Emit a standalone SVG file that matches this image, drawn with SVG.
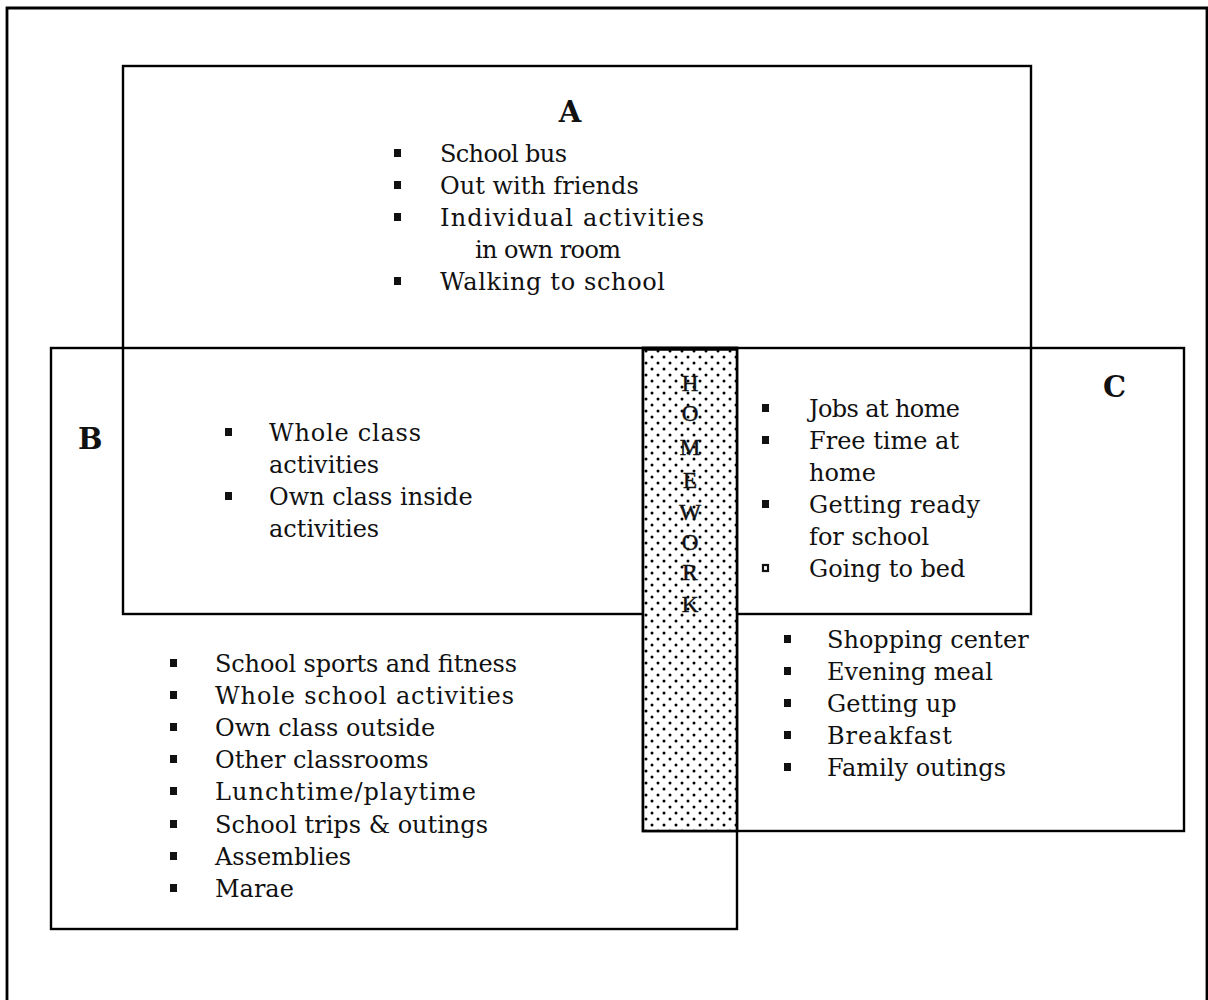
<svg xmlns="http://www.w3.org/2000/svg" width="1208" height="1000" viewBox="0 0 1208 1000">
<style>
.box{fill:none;stroke:#000;stroke-width:2.4}
.t{font-family:"DejaVu Serif","Liberation Serif",serif;font-size:24px;fill:#111}
.h{font-family:"DejaVu Serif","Liberation Serif",serif;font-size:29px;font-weight:bold;fill:#111}
.hw{font-family:"Liberation Serif",serif;font-size:23px;fill:#111;text-anchor:middle;stroke:#111;stroke-width:0.5}
.b{fill:#111}
</style>
<defs>
<pattern id="dots" x="643" y="348" width="12" height="12" patternUnits="userSpaceOnUse">
<rect width="12" height="12" fill="#fff"/>
<circle cx="3" cy="3" r="1.5" fill="#000"/>
<circle cx="9" cy="9" r="1.5" fill="#000"/>
</pattern>
</defs>
<rect width="1208" height="1000" fill="#fff"/>
<g id="frame"><path d="M7,1002 V8 H1207 V1002" fill="none" stroke="#000" stroke-width="2.8"/></g>
<g id="connectors"></g>
<g id="boxA"><rect class="box" x="123" y="66" width="908" height="548"/></g>
<g id="boxB"><rect class="box" x="51" y="348" width="686" height="581"/></g>
<g id="boxC"><rect class="box" x="643" y="348" width="541" height="483"/></g>
<g id="homework">
<rect x="643" y="348" width="94" height="483" fill="url(#dots)" stroke="#000" stroke-width="2.6"/>
<line x1="643" y1="349" x2="737" y2="349" stroke="#000" stroke-width="3.5"/>
<text class="hw" x="690" y="391">H</text>
<text class="hw" x="690" y="421">O</text>
<text class="hw" x="690" y="455">M</text>
<text class="hw" x="690" y="488">E</text>
<text class="hw" x="690" y="520">W</text>
<text class="hw" x="690" y="550">O</text>
<text class="hw" x="690" y="580">R</text>
<text class="hw" x="690" y="612">K</text>
</g>
<g id="labelA">
<text class="h" x="570" y="122" text-anchor="middle">A</text>
<rect class="b" x="394" y="149" width="7" height="8"/>
<text class="t" x="440" y="162" textLength="127">School bus</text>
<rect class="b" x="394" y="181" width="7" height="8"/>
<text class="t" x="440" y="194">Out with friends</text>
<rect class="b" x="394" y="213" width="7" height="8"/>
<text class="t" x="440" y="226" textLength="264">Individual  activities</text>
<text class="t" x="475" y="258" textLength="146">in own room</text>
<rect class="b" x="394" y="277" width="7" height="8"/>
<text class="t" x="440" y="290" textLength="225">Walking to school</text>
</g>
<g id="labelB">
<text class="h" x="78" y="449">B</text>
<rect class="b" x="225" y="428" width="7" height="8"/>
<text class="t" x="269" y="441" textLength="152">Whole class</text>
<text class="t" x="269" y="473">activities</text>
<rect class="b" x="225" y="492" width="7" height="8"/>
<text class="t" x="269" y="505">Own class inside</text>
<text class="t" x="269" y="537">activities</text>
<rect class="b" x="170" y="659" width="7" height="8"/>
<text class="t" x="215" y="672" textLength="302">School sports and fitness</text>
<rect class="b" x="170" y="691" width="7" height="8"/>
<text class="t" x="215" y="704" textLength="299">Whole school activities</text>
<rect class="b" x="170" y="723" width="7" height="8"/>
<text class="t" x="215" y="736">Own class outside</text>
<rect class="b" x="170" y="755" width="7" height="8"/>
<text class="t" x="215" y="768">Other classrooms</text>
<rect class="b" x="170" y="787" width="7" height="8"/>
<text class="t" x="215" y="800" textLength="261">Lunchtime/playtime</text>
<rect class="b" x="170" y="820" width="7" height="8"/>
<text class="t" x="215" y="833">School trips &amp; outings</text>
<rect class="b" x="170" y="852" width="7" height="8"/>
<text class="t" x="215" y="865">Assemblies</text>
<rect class="b" x="170" y="884" width="7" height="8"/>
<text class="t" x="215" y="897">Marae</text>
</g>
<g id="labelC">
<text class="h" x="1103" y="397">C</text>
<rect class="b" x="762" y="404" width="7" height="8"/>
<text class="t" x="809" y="417" textLength="151">Jobs at home</text>
<rect class="b" x="762" y="436" width="7" height="8"/>
<text class="t" x="809" y="449">Free time at</text>
<text class="t" x="809" y="481">home</text>
<rect class="b" x="762" y="500" width="7" height="8"/>
<text class="t" x="809" y="513" textLength="171">Getting ready</text>
<text class="t" x="809" y="545">for school</text>
<rect x="763" y="565" width="5" height="6" fill="#fff" stroke="#111" stroke-width="2.2"/>
<text class="t" x="809" y="577">Going to bed</text>
<rect class="b" x="784" y="635" width="7" height="8"/>
<text class="t" x="827" y="648">Shopping center</text>
<rect class="b" x="784" y="667" width="7" height="8"/>
<text class="t" x="827" y="680">Evening meal</text>
<rect class="b" x="784" y="699" width="7" height="8"/>
<text class="t" x="827" y="712">Getting up</text>
<rect class="b" x="784" y="731" width="7" height="8"/>
<text class="t" x="827" y="744" textLength="125">Breakfast</text>
<rect class="b" x="784" y="763" width="7" height="8"/>
<text class="t" x="827" y="776">Family outings</text>
</g>
</svg>
